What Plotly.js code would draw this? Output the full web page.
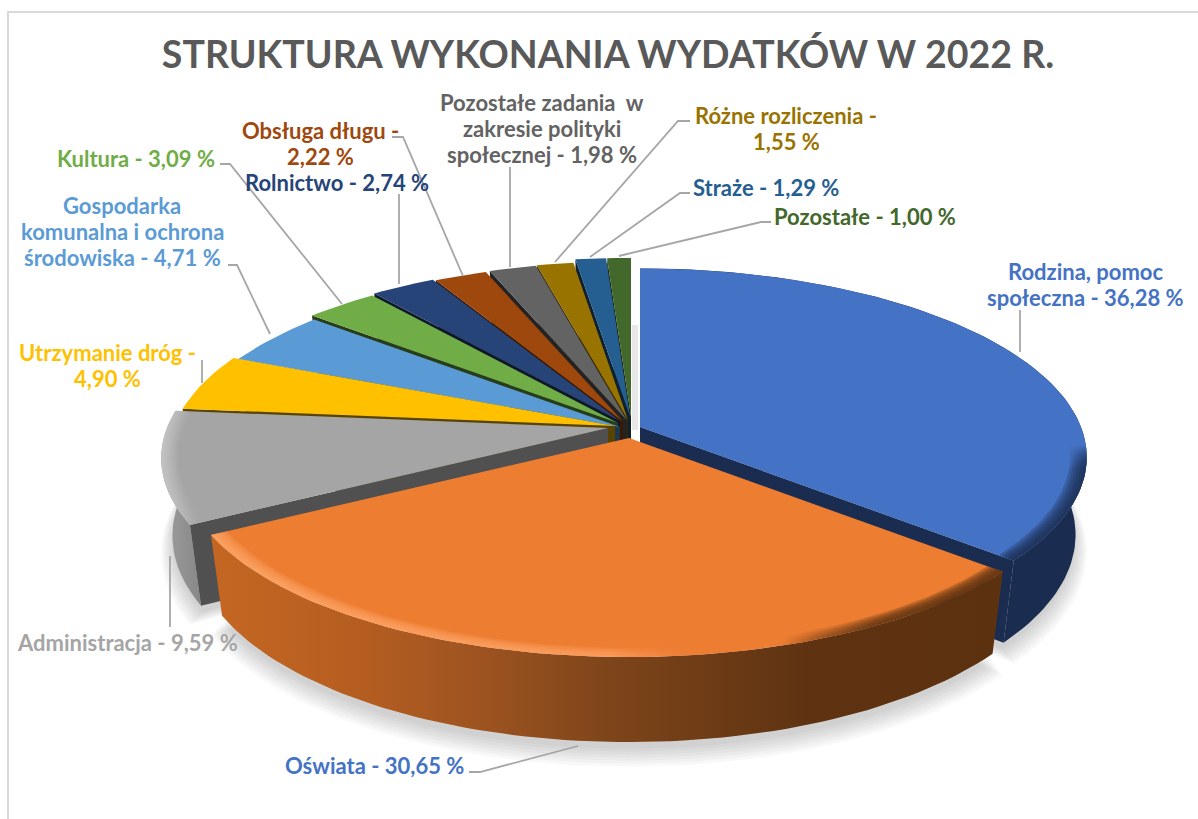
<!DOCTYPE html>
<html><head><meta charset="utf-8">
<script src="https://cdn.plot.ly/plotly-3.0.1.min.js"></script>
<style>html,body{margin:0;padding:0;background:#fff}#c{width:1198px;height:819px}</style>
</head><body><div id="c"></div>
<script>
const categories = ["Rodzina, pomoc społeczna","Oświata","Administracja","Utrzymanie dróg","Gospodarka komunalna i ochrona środowiska","Kultura","Rolnictwo","Obsługa długu","Pozostałe zadania w zakresie polityki społecznej","Różne rozliczenia","Straże","Pozostałe"];
const values = [36.28,30.65,9.59,4.90,4.71,3.09,2.74,2.22,1.98,1.55,1.29,1.00];
const sliceColors = ["#4472C4","#ED7D31","#A5A5A5","#FFC000","#5B9BD5","#70AD47","#264478","#9E480E","#636363","#997300","#255E91","#43682B"];
const labelColors = ["#4472C4","#4472C4","#A5A5A5","#FFC000","#5B9BD5","#70AD47","#264478","#9E480E","#636363","#997300","#255E91","#43682B"];
const labelTexts = [["Rodzina, pomoc","społeczna - 36,28 %"],["Oświata - 30,65 %"],["Administracja - 9,59 %"],["Utrzymanie dróg -","4,90 %"],["Gospodarka","komunalna i ochrona","środowiska - 4,71 %"],["Kultura - 3,09 %"],["Rolnictwo - 2,74 %"],["Obsługa długu -","2,22 %"],["Pozostałe zadania  w","zakresie polityki","społecznej - 1,98 %"],["Różne rozliczenia -","1,55 %"],["Straże - 1,29 %"],["Pozostałe - 1,00 %"]];
const titleText = "STRUKTURA WYKONANIA WYDATKÓW W 2022 R.";

// layout of the labels, leaders and exploded slice tips (kept apart from the data)
const labelPos = [[1085,284],[374,765],[127,642],[107,365.5],[122,231.5],[136,158],[337,182],[320,143],[542,128.5],[786,128.5],[766,187],[865,216]];
const leaders = [
 [[1020,310],[1020,352]],[[469,772],[480,772],[578,746]],[[170,556],[170,627]],[[202,360],[202,383]],
 [[228,265],[237,265],[270,334]],[[220,164],[230,164],[342,304]],[[399,194],[399,284]],[[392,137],[403,137],[463,276]],
 [[510,167],[510,267]],[[690,121],[678,121],[555,262]],[[690,193],[680,193],[590,257]],[[771,222],[761,222],[619,256]]];
const apexes = [[640,427],[629,438],[608,428],[615,426],[620,427],[618,423],[620,421],[623,421.5],[627,420.5],[628,420],[630,416.5],[631,416.5]];

const A=441,B=184,P=0.16,H=79,Q=0.025;
function proj(i,th,r,h){const s=Math.sin(th),c=Math.cos(th),D=1+P*r*c+Q*h;
  return [apexes[i][0]+A*r*s/D, apexes[i][1]-B*r*c/D+H*h/D];}
function arc(i,t0,t1,r,h){const n=Math.max(2,Math.ceil(Math.abs(t1-t0)/(1.5*Math.PI/180)));const o=[];
  for(let k=0;k<=n;k++)o.push(proj(i,t0+(t1-t0)*k/n,r,h));return o;}
const traces=[];
function poly(pts,color,grad){const t={type:"scatter",mode:"lines",x:pts.map(p=>p[0]),y:pts.map(p=>p[1]),
   fill:"toself",line:{width:0,color:"rgba(0,0,0,0)"},hoverinfo:"skip",showlegend:false};
  if(grad)t.fillgradient=grad;else t.fillcolor=color;traces.push(t);}
function shade(hex,f){const n=parseInt(hex.slice(1),16);const c=[n>>16,(n>>8)&255,n&255].map(v=>Math.round(v*f));return `rgb(${c})`;}

const total=values.reduce((a,b)=>a+b,0);
const spans=[];let run=0;for(const v of values){const t0=run/total*2*Math.PI;run+=v;spans.push([t0,run/total*2*Math.PI]);}

const wallGrad={
 1:{type:"horizontal",start:208,stop:1005,colorscale:[[0,"#C56722"],[0.2,"#B45D21"],[0.35,"#9C5320"],[0.5,"#7E451A"],[0.75,"#5F3312"],[1,"#5C3110"]]},
 2:{type:"horizontal",start:160,stop:205,colorscale:[[0,"#9F9F9F"],[1,"#858585"]]}
};
const wallFlat={0:"#1A2C50"};
const cutColor={0:"#1A2C50",2:"#505050"};
// soft rim of each large top face
const rimGrad={
 0:{type:"vertical",start:445,stop:560,colorscale:[[0,"rgba(26,44,80,0)"],[0.2,"rgba(26,44,80,0.28)"],[1,"rgba(26,44,80,0.3)"]]},
 1:{type:"horizontal",start:208,stop:1005,colorscale:[[0,"rgba(255,170,110,0.22)"],[0.5,"rgba(255,165,105,0.2)"],[0.62,"rgba(240,130,60,0)"],[0.72,"rgba(92,49,16,0)"],[0.85,"rgba(92,49,16,0.3)"],[1,"rgba(92,49,16,0.35)"]]},
 2:{type:"horizontal",start:160,stop:200,colorscale:[[0,"rgba(205,205,205,0.2)"],[1,"rgba(205,205,205,0)"]]}
};
const rimWidths=[0.036,0.03,0.024,0.018,0.012,0.006];

// ground shadow
for(const i of [2,1,0]){const [t0,t1]=spans[i];
  for(let k=0;k<7;k++){const apexPt=proj(i,0,0,1.0);
    const pts=[apexPt,...arc(i,t0,t1,1+0.005*k,1.08+0.02*k)];
    poly(pts,"rgba(60,60,60,0.035)");}}

const order=[11,10,9,8,7,6,5,4,3,2,0,1];
for(const i of order){
  const [t0,t1]=spans[i];
  const col=sliceColors[i];
  const cutC=cutColor[i]||shade(col,0.35);
  // outer wall
  if(i<3){const top=arc(i,t0,t1,1,0),bot=arc(i,t1,t0,1,1);
    if(wallGrad[i])poly([...top,...bot],null,wallGrad[i]);else poly([...top,...bot],wallFlat[i]);}
  // cut faces that look toward the viewer
  if(Math.sin(t0)<-0.001)poly([proj(i,t0,0,0),proj(i,t0,1,0),proj(i,t0,1,1),proj(i,t0,0,1)],cutC);
  if(Math.sin(t1)>0.001)poly([proj(i,t1,0,0),proj(i,t1,1,0),proj(i,t1,1,1),proj(i,t1,0,1)],cutC);
  // top face
  poly([proj(i,t0,0,0),...arc(i,t0,t1,1,0)],col);
  // bevel rings
  if(rimGrad[i]){for(const w of rimWidths){
    poly([...arc(i,t0,t1,1,0),...arc(i,t1,t0,1-w,0)],null,rimGrad[i]);}}
}

const LINE=26;
const annotations=[];
categories.forEach((c,i)=>{const L=labelTexts[i];L.forEach((s,k)=>annotations.push({xref:"x",yref:"y",x:labelPos[i][0],
  y:labelPos[i][1]+(k-(L.length-1)/2)*LINE,text:"<b>"+s+"</b>",showarrow:false,xanchor:"center",yanchor:"middle",align:"center",
  font:{family:"Lato, sans-serif",size:22,color:labelColors[i]}}));});
const shapes=leaders.map(l=>({type:"path",xref:"x",yref:"y",layer:"above",
  path:"M"+l.map(p=>p.join(" ")).join("L"),line:{color:"#A6A6A6",width:1.8}}));
shapes.push({type:"rect",xref:"x",yref:"y",x0:8,y0:12,x1:1230,y1:850,layer:"below",line:{color:"#D9D9D9",width:2},fillcolor:"rgba(0,0,0,0)"});
shapes.push({type:"rect",xref:"x",yref:"y",x0:632,y0:325,x1:638,y1:430,layer:"below",line:{width:0},fillcolor:"#E8E8E8"});

const layout={width:1198,height:819,margin:{l:0,r:0,t:0,b:0},paper_bgcolor:"#fff",plot_bgcolor:"#fff",showlegend:false,hovermode:false,
  title:{text:"<b>"+titleText+"</b>",x:608/1198,y:1-55/819,xref:"paper",yref:"paper",xanchor:"center",yanchor:"middle",font:{family:"Lato, sans-serif",size:37.5,color:"#595959"}},
  xaxis:{range:[0,1198],visible:false,fixedrange:true},yaxis:{range:[819,0],visible:false,fixedrange:true},
  annotations,shapes};
Plotly.newPlot("c",traces,layout,{displayModeBar:false,staticPlot:true});
</script></body></html>
